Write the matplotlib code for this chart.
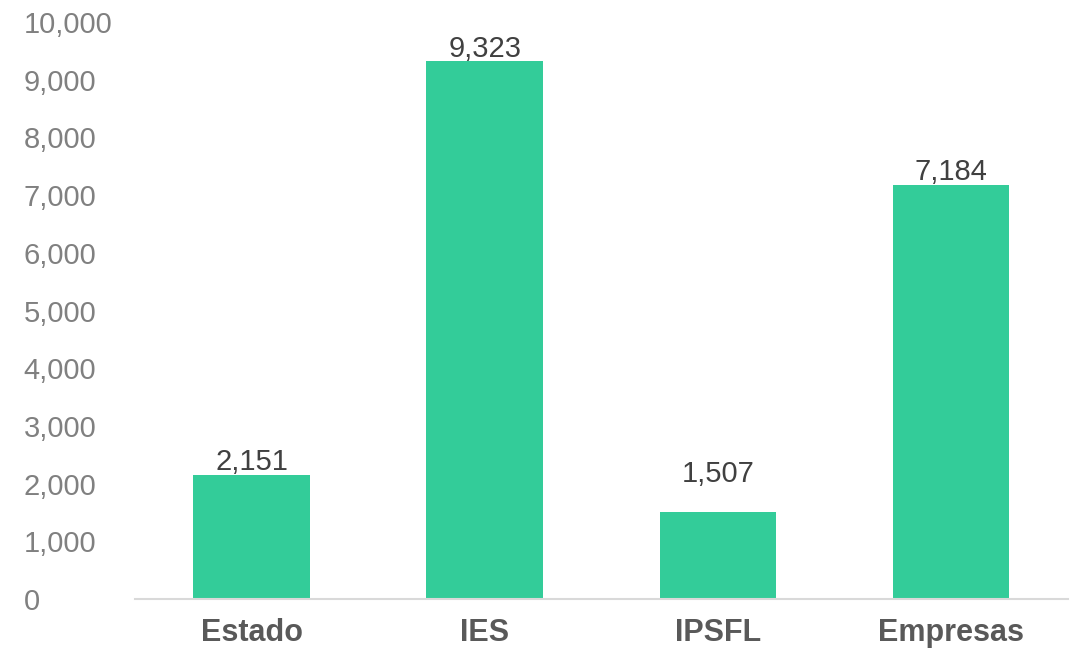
import matplotlib.pyplot as plt
from matplotlib.ticker import FuncFormatter

categories = ['Estado', 'IES', 'IPSFL', 'Empresas']
values = [2151, 9323, 1507, 7184]
label_offsets = [0, 0, 18, 0]  # extra points above the bar for each value label

plt.rcParams['font.family'] = ['Liberation Sans', 'DejaVu Sans']

fig = plt.figure(figsize=(10.71, 6.49), dpi=100)
ax = fig.add_axes([0.126, 0.077, 0.871, 0.889])

x = range(len(categories))
bars = ax.bar(x, values, width=0.5, color='#33cc99', zorder=2)

for b, v, off in zip(bars, values, label_offsets):
    ax.annotate('{:,}'.format(v), (b.get_x() + b.get_width() / 2, v),
                xytext=(0, -1 + off), textcoords='offset points',
                ha='center', va='bottom', fontsize=21, color='#404040')

ax.set_xlim(-0.5, 3.5)
ax.set_ylim(0, 10000)
ax.set_yticks(range(0, 10001, 1000))
ax.yaxis.set_major_formatter(FuncFormatter(lambda v, p: '{:,.0f}'.format(v)))
ax.set_xticks(list(x))
ax.set_xticklabels(categories, fontsize=22, fontweight='bold', color='#595959')

for s in ['top', 'right', 'left']:
    ax.spines[s].set_visible(False)
ax.spines['bottom'].set_color('#d9d9d9')
ax.spines['bottom'].set_linewidth(1.5)

ax.tick_params(axis='y', length=0, labelsize=21, labelcolor='#808080', pad=80)
for t in ax.get_yticklabels():
    t.set_horizontalalignment('left')
ax.tick_params(axis='x', length=0, pad=14)

fig.savefig('out.png', dpi=100)
